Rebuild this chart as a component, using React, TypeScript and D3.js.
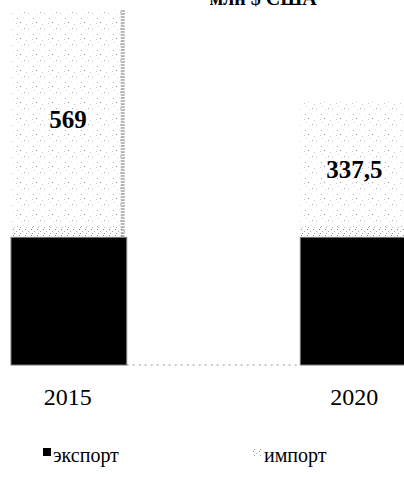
import React from "react";
import * as d3 from "d3";

const years = ["2015", "2020"];
const exportValues = [320, 320];
const importValues = [569, 337.5];
const importLabels = ["569", "337,5"];
const seriesNames = ["экспорт", "импорт"];
const title = "млн $ США";

const W = 404;
const H = 477;

export default function App() {
  const x = d3.scaleBand<string>().domain(years).range([11, 416]).paddingInner(0.6).paddingOuter(0);
  const y = d3.scaleLinear().domain([0, 900]).range([365, 6]);
  const bw = x.bandwidth();
  const serif = "'Liberation Serif', 'Times New Roman', serif";

  const dots: [number, number, string][] = [
    [1, 2, "#aaa"], [7, 1, "#ddd"], [4, 6, "#999"], [10, 8, "#ccc"], [2, 10, "#ddd"],
    [8, 12, "#aaa"], [13, 4, "#ddd"], [12, 13, "#ccc"], [5, 14, "#e0e0e0"], [0, 7, "#ccc"],
  ];

  return (
    <svg width={W} height={H} style={{ position: "absolute", left: 0, top: 0, background: "#fff" }}>
      <defs>
        <pattern id="stip" width={16} height={16} patternUnits="userSpaceOnUse">
          <rect width={16} height={16} fill="#fff" />
          {dots.map(([a, b, c], i) => (
            <rect key={i} x={a} y={b} width={1} height={1} fill={c} />
          ))}
        </pattern>
        <pattern id="stipDense" width={6} height={6} patternUnits="userSpaceOnUse">
          <rect width={6} height={6} fill="#fff" />
          <rect x={1} y={1} width={1} height={1} fill="#888" />
          <rect x={4} y={3} width={1} height={1} fill="#aaa" />
          <rect x={2} y={5} width={1} height={1} fill="#999" />
        </pattern>
      </defs>

      <text x={263} y={5} textAnchor="middle" fontFamily={serif} fontWeight="bold" fontSize={20} fill="#000">
        {title}
      </text>

      <line x1={x("2015")! + bw} x2={x("2020")!} y1={y(0)} y2={y(0)} stroke="#999" strokeDasharray="2,4" />

      {years.map((yr, i) => {
        const x0 = x(yr)!;
        const e = exportValues[i];
        const im = importValues[i];
        return (
          <g key={yr}>
            <rect x={x0} y={y(e + im)} width={bw} height={y(e) - y(e + im)} fill="url(#stip)" />
            <rect x={x0} y={y(e) - 10} width={bw} height={10} fill="url(#stipDense)" />
            {i === 0 && (
              <line x1={x0 + bw - 4} x2={x0 + bw - 4} y1={y(e + im)} y2={y(e)} stroke="#777" strokeWidth={4} strokeDasharray="1,2" />
            )}
            <rect x={x0} y={y(e)} width={bw} height={y(0) - y(e)} fill="#000" stroke="#777" strokeWidth={1} />
            <text
              x={i === 0 ? x0 + 57 : x0 + 54}
              y={i === 0 ? 128 : 178}
              textAnchor="middle"
              fontFamily={serif}
              fontWeight="bold"
              fontSize={25}
              fill="#000"
            >
              {importLabels[i]}
            </text>
            <text x={i === 0 ? x0 + bw / 2 - 1 : x0 + bw / 2 - 4} y={405} textAnchor="middle" fontFamily={serif} fontSize={24} fill="#000">
              {yr}
            </text>
          </g>
        );
      })}

      <rect x={43} y={448} width={8} height={8} fill="#000" />
      <text x={53} y={462} fontFamily={serif} fontSize={20} fill="#000">{seriesNames[0]}</text>
      <rect x={252} y={448} width={9} height={8} fill="url(#stipDense)" />
      <text x={264} y={462} fontFamily={serif} fontSize={20} fill="#000">{seriesNames[1]}</text>
    </svg>
  );
}
